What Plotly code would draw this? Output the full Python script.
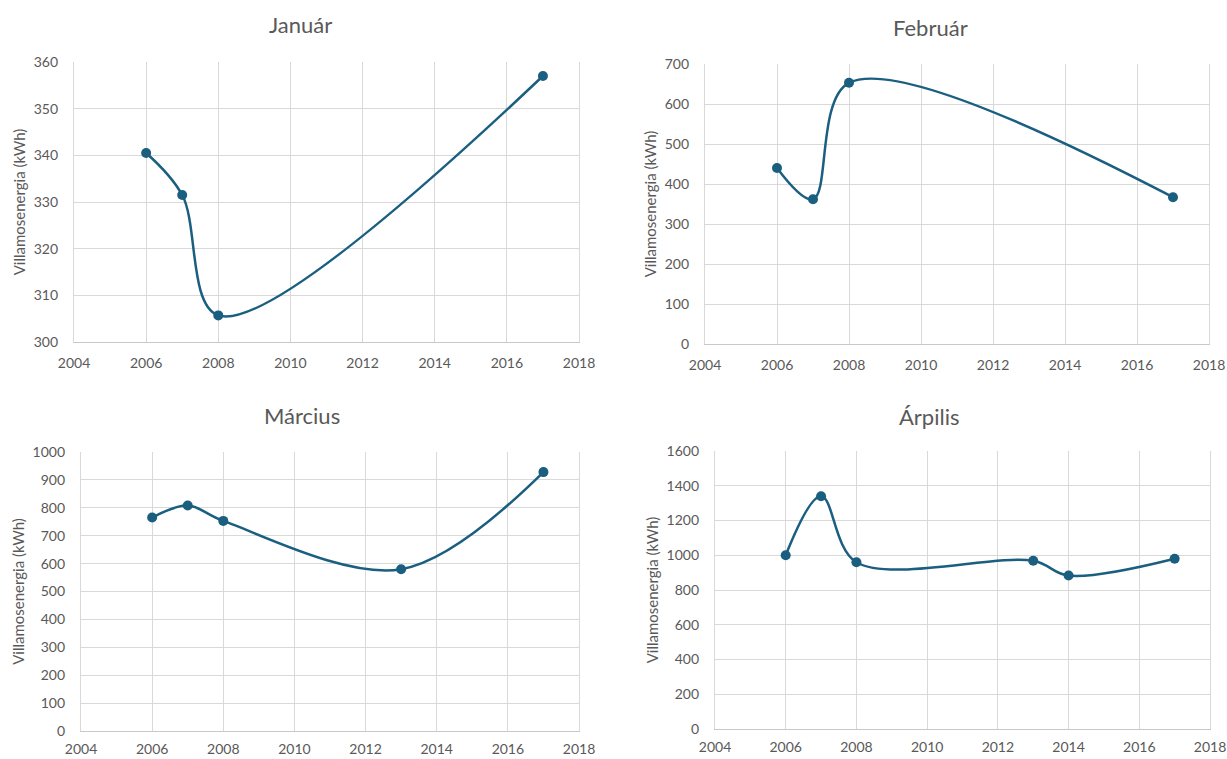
import plotly.graph_objects as go

# Monthly electricity consumption by year
jan_years = [2006, 2007, 2008, 2017]
jan_kwh = [340.5, 331.5, 305.7, 357.0]

feb_years = [2006, 2007, 2008, 2017]
feb_kwh = [440, 362, 653, 367]

mar_years = [2006, 2007, 2008, 2013, 2017]
mar_kwh = [765, 808, 753, 580, 928]

apr_years = [2006, 2007, 2008, 2013, 2014, 2017]
apr_kwh = [1000, 1340, 960, 968, 883, 980]

titles = ["Január", "Február", "Március", "Árpilis"]
y_title = "Villamosenergia (kWh)"
x_ticks = [2004, 2006, 2008, 2010, 2012, 2014, 2016, 2018]

LINE = "#1a5e80"
GRID = "#d9d9d9"
TEXT = "#595959"
FONT = "Lato, 'Open Sans', sans-serif"

W, H = 1227, 759

# panel boxes in pixels: left, right, top, bottom
boxes = [
    (74, 579, 62, 342),
    (705, 1209, 64, 344),
    (81, 579, 452, 731),
    (715, 1210, 451, 729),
]
# title centres in pixels
title_pos = [(300, 25), (930, 28), (302, 415), (929, 416)]
# gap between x axis and its tick labels
x_label_gap = [8, 8, 5, 5]
y_ranges = [(300, 360, 10), (0, 700, 100), (0, 1000, 100), (0, 1600, 200)]
series = [(jan_years, jan_kwh), (feb_years, feb_kwh),
          (mar_years, mar_kwh), (apr_years, apr_kwh)]

fig = go.Figure()
layout = dict(
    width=W, height=H,
    margin=dict(l=0, r=0, t=0, b=0),
    paper_bgcolor="white", plot_bgcolor="white",
    showlegend=False,
    font=dict(family=FONT, color=TEXT),
    annotations=[],
)

for i, ((xs, ys), (l, r, t, b), (y0, y1, dy), title, (tx, ty), gap) in enumerate(
        zip(series, boxes, y_ranges, titles, title_pos, x_label_gap)):
    n = "" if i == 0 else str(i + 1)
    fig.add_trace(go.Scatter(
        x=xs, y=ys, mode="lines+markers",
        line=dict(color=LINE, width=2.5, shape="spline", smoothing=1.0),
        marker=dict(color=LINE, size=10),
        xaxis="x" + n, yaxis="y" + n,
    ))
    layout["xaxis" + n] = dict(
        domain=[l / W, r / W], anchor="y" + n,
        range=[2004, 2018], tickvals=x_ticks,
        showgrid=True, gridcolor=GRID, gridwidth=1.3,
        showline=True, linecolor="#c8c8c8", linewidth=1.3,
        zeroline=False, tickfont=dict(size=14, color=TEXT),
        ticklabelstandoff=gap, fixedrange=True, automargin=False,
    )
    layout["yaxis" + n] = dict(
        domain=[1 - b / H, 1 - t / H], anchor="x" + n,
        range=[y0, y1], dtick=dy, tick0=y0,
        showgrid=True, gridcolor=GRID, gridwidth=1.3,
        showline=True, linecolor=GRID, linewidth=1.3, mirror=True,
        zeroline=False, tickfont=dict(size=14, color=TEXT),
        ticklabelstandoff=12,
        title=dict(text=y_title, font=dict(size=15, color=TEXT), standoff=4),
        fixedrange=True, automargin=False,
    )
    layout["annotations"].append(dict(
        text=title, xref="paper", yref="paper",
        x=tx / W, y=1 - ty / H,
        xanchor="center", yanchor="middle", showarrow=False,
        font=dict(size=22, color=TEXT, family=FONT),
    ))

fig.update_layout(**layout)
fig.write_html("out.html")
